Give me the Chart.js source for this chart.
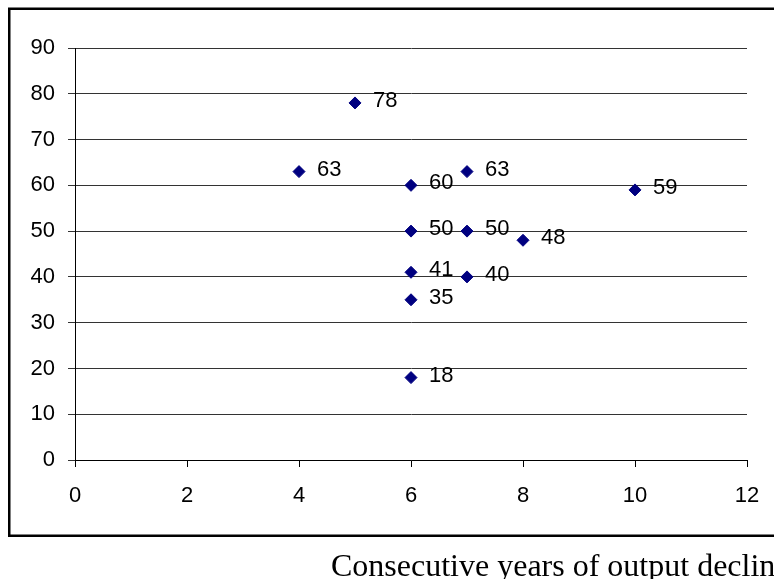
<!DOCTYPE html>
<html>
<head>
<meta charset="utf-8">
<script src="https://cdn.jsdelivr.net/npm/chart.js@4/dist/chart.umd.min.js"></script>
<style>
  html, body { margin: 0; padding: 0; background: #fff; overflow: hidden; }
  canvas { display: block; }
</style>
</head>
<body>
<canvas id="c" width="774" height="579"></canvas>
<script>
// Consecutive years of output decline (x) vs value (y)
const yearsOfDecline = [4, 5, 6, 6, 6, 6, 6, 7, 7, 7, 8, 10];
const outputValues   = [63, 78, 60, 50, 41, 35, 18, 63, 50, 40, 48, 59];
const xTickValues = [0, 2, 4, 6, 8, 10, 12];
const yTickValues = [0, 10, 20, 30, 40, 50, 60, 70, 80, 90];
const axisTitle = 'Consecutive years of output decline';

const points = yearsOfDecline.map((x, i) => ({ x: x, y: outputValues[i] }));

const frameAndTitle = {
  id: 'frameAndTitle',
  afterDraw(chart) {
    const ctx = chart.ctx;
    ctx.save();
    ctx.strokeStyle = '#000';
    ctx.lineWidth = 2.5;
    ctx.beginPath();
    ctx.moveTo(800, 8.75);
    ctx.lineTo(9.25, 8.75);
    ctx.lineTo(9.25, 535.75);
    ctx.lineTo(800, 535.75);
    ctx.stroke();
    ctx.fillStyle = '#000';
    ctx.font = '32px "Liberation Serif", "Times New Roman", serif';
    ctx.textAlign = 'left';
    ctx.textBaseline = 'alphabetic';
    ctx.fillText(axisTitle, 331, 576);
    ctx.restore();
  }
};

const valueLabels = {
  id: 'valueLabels',
  afterDatasetsDraw(chart) {
    const ctx = chart.ctx;
    const meta = chart.getDatasetMeta(0);
    const data = chart.data.datasets[0].data;
    ctx.save();
    ctx.fillStyle = '#000';
    ctx.font = '22px "Liberation Sans", Arial, sans-serif';
    ctx.textAlign = 'left';
    ctx.textBaseline = 'middle';
    meta.data.forEach((el, i) => {
      ctx.fillText(String(data[i].y), el.x + 18, el.y - 2);
    });
    ctx.restore();
  }
};

new Chart(document.getElementById('c'), {
  type: 'scatter',
  data: {
    datasets: [{
      data: points,
      pointStyle: 'rectRot',
      pointRadius: 6,
      pointHoverRadius: 6,
      backgroundColor: '#000080',
      borderColor: '#000080',
      borderWidth: 1
    }]
  },
  options: {
    responsive: false,
    devicePixelRatio: 1,
    animation: false,
    events: [],
    layout: { padding: { top: 48, right: 27, left: 0, bottom: 0 } },
    plugins: { legend: { display: false }, tooltip: { enabled: false } },
    scales: {
      x: {
        type: 'linear',
        min: 0, max: 12,
        afterFit(scale) { scale.height = 119; scale.paddingLeft = 0; scale.paddingRight = 0; },
        afterBuildTicks(scale) { scale.ticks = xTickValues.map(v => ({ value: v })); },
        grid: { drawOnChartArea: false, drawTicks: true, tickLength: 7, color: '#000', lineWidth: 1 },
        border: { display: true, color: '#000', width: 1 },
        ticks: {
          color: '#000',
          padding: 16,
          maxRotation: 0,
          font: { family: '"Liberation Sans", Arial, sans-serif', size: 22 }
        }
      },
      y: {
        type: 'linear',
        min: 0, max: 90,
        afterFit(scale) { scale.width = 75; scale.paddingTop = 0; scale.paddingBottom = 0; },
        afterBuildTicks(scale) { scale.ticks = yTickValues.map(v => ({ value: v })); },
        grid: { drawOnChartArea: true, drawTicks: true, tickLength: 7, color: '#333', lineWidth: 1 },
        border: { display: true, color: '#000', width: 1 },
        ticks: {
          color: '#000',
          padding: 13,
          font: { family: '"Liberation Sans", Arial, sans-serif', size: 22 }
        }
      }
    }
  },
  plugins: [valueLabels, frameAndTitle]
});
</script>
</body>
</html>
